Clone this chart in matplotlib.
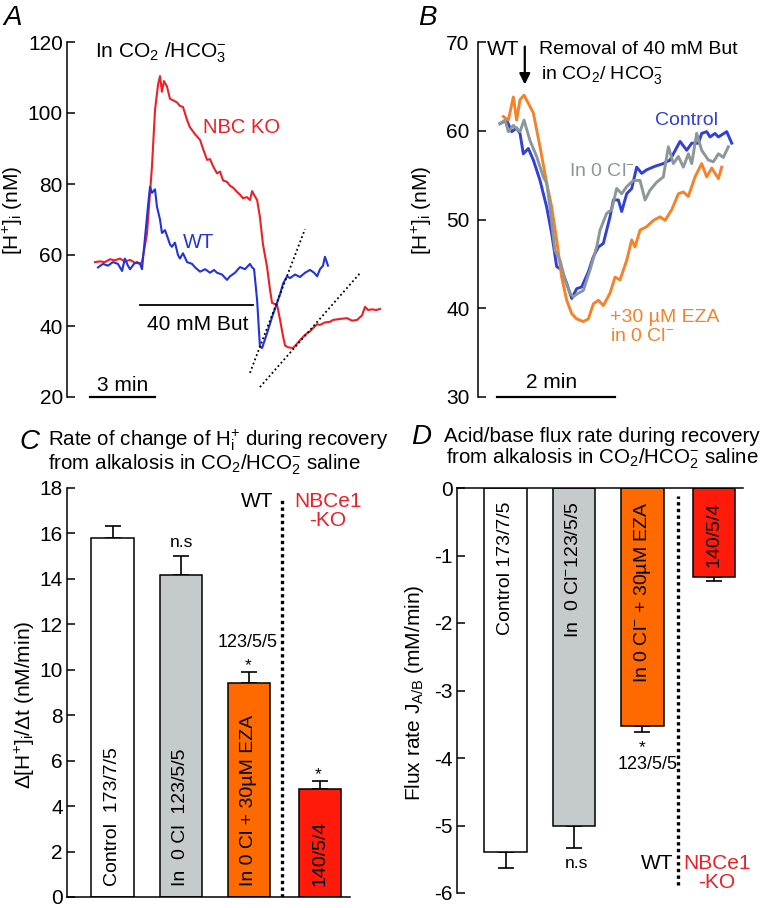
import numpy as np
import matplotlib
matplotlib.use("Agg")
import matplotlib.pyplot as plt

plt.rcParams['font.family'] = ['Liberation Sans', 'DejaVu Sans']
plt.rcParams['mathtext.fontset'] = 'custom'
plt.rcParams['mathtext.rm'] = 'Liberation Sans'
plt.rcParams['mathtext.it'] = 'Liberation Sans:italic'
plt.rcParams['mathtext.bf'] = 'Liberation Sans:bold'
plt.rcParams['axes.linewidth'] = 1.1
plt.rcParams['axes.unicode_minus'] = False

# ---------------- Panel A data (time in min, [H+]i in nM) ----------------
a_ko_t = [0, 0.23, 0.46, 0.69, 0.92, 1.15, 1.38, 1.62, 1.85, 2.08, 2.17, 2.40, 2.63, 2.77, 2.91,
          3.00, 3.09, 3.18, 3.32, 3.46, 3.60, 3.78, 3.92, 4.06, 4.25, 4.38, 4.62, 4.85, 4.98, 5.17,
          5.31, 5.45, 5.63, 5.77, 5.91, 6.09, 6.23, 6.37, 6.55, 6.69, 6.83, 7.01, 7.15, 7.25, 7.38,
          7.48, 7.61, 7.75, 7.94, 8.08, 8.17, 8.40, 8.54, 8.68, 8.77, 8.91, 9.14, 9.32, 9.46, 9.69,
          9.92, 10.06, 10.25, 10.38, 10.61, 10.85, 10.98, 11.31, 11.63, 11.86, 12.09, 12.32, 12.46,
          12.60, 12.78, 12.97, 13.15]
a_ko_h = [58.0, 58.2, 58.0, 58.8, 58.5, 59.0, 58.2, 58.6, 57.8, 57.6, 58.0, 66.0, 85.0, 100.8, 108.0,
          110.4, 106.0, 109.0, 107.5, 104.0, 103.6, 103.0, 102.0, 101.7, 98.0, 96.0, 94.0, 92.4, 90.0, 86.8,
          87.0, 85.0, 83.0, 83.5, 81.0, 80.6, 79.5, 79.0, 77.8, 77.0, 76.0, 76.3, 75.5, 78.0, 76.5,
          75.5, 70.7, 63.0, 56.6, 50.0, 46.5, 46.0, 41.7, 37.0, 34.5, 34.0, 33.8, 35.0, 36.0, 37.5,
          38.5, 39.4, 40.5, 40.3, 41.0, 41.2, 41.7, 42.0, 42.2, 41.5, 41.7, 43.0, 45.4,
          44.5, 44.7, 44.5, 44.8]
a_wt_t = [0.14, 0.37, 0.60, 0.83, 1.06, 1.25, 1.38, 1.52, 1.62, 1.80, 1.94, 2.08, 2.17, 2.31, 2.45,
          2.54, 2.63, 2.77, 2.86, 3.00, 3.09, 3.23, 3.32, 3.46, 3.55, 3.69, 3.83, 3.92, 4.06, 4.25,
          4.48, 4.62, 4.85, 5.08, 5.31, 5.49, 5.63, 5.86, 6.09, 6.23, 6.46, 6.69, 6.92, 7.15, 7.25,
          7.34, 7.48, 7.61, 7.71, 7.94, 8.17, 8.40, 8.54, 8.68, 8.86, 9.00, 9.23, 9.46, 9.69, 9.92,
          10.11, 10.25, 10.38, 10.52, 10.61, 10.75]
a_wt_h = [56.5, 57.5, 57.0, 58.0, 57.5, 55.5, 59.0, 57.0, 56.0, 57.5, 58.0, 57.5, 56.0, 65.0, 74.0,
          79.2, 77.5, 78.5, 73.6, 70.0, 66.2, 67.0, 65.5, 63.0, 62.3, 63.5, 60.0, 59.0, 60.5, 58.0,
          57.5, 56.5, 55.3, 56.0, 55.0, 55.8, 55.0, 54.5, 53.0, 54.0, 55.0, 56.6, 56.0, 57.5, 56.5,
          56.0, 47.3, 34.2, 33.8, 38.0, 42.5, 46.5, 49.0, 52.0, 54.0, 53.5, 54.5, 53.8, 55.0, 55.8,
          55.0, 54.0, 56.0, 57.0, 59.5, 57.0]
a_fit1_t = [7.15, 9.69]
a_fit1_h = [26.8, 67.3]
a_fit2_t = [7.61, 12.23]
a_fit2_h = [22.8, 54.9]
a_but_t = [2.08, 7.29]
a_yticks = [20, 40, 60, 80, 100, 120]

# ---------------- Panel B data ----------------
b_ctl_t = [0, 0.113, 0.198, 0.282, 0.339, 0.395, 0.480, 0.565, 0.678, 0.791, 0.876, 0.960, 1.045,
           1.130, 1.215, 1.299, 1.384, 1.497, 1.582, 1.667, 1.751, 1.864, 1.921, 2.006, 2.062, 2.147,
           2.232, 2.316, 2.401, 2.486, 2.627, 2.768, 2.881, 2.938, 3.051, 3.164, 3.249, 3.362, 3.418,
           3.503, 3.559, 3.644, 3.701, 3.842, 3.927]
b_ctl_h = [60.8, 61.2, 59.9, 60.3, 59.7, 57.4, 58.0, 56.7, 54.4, 51.4, 48.4, 44.7, 44.3,
           42.8, 41.1, 42.2, 42.4, 44.1, 45.8, 46.9, 47.3, 50.3, 52.2, 52.2, 50.9, 52.9,
           53.5, 55.9, 55.2, 55.6, 56.0, 56.3, 56.7, 57.4, 58.8, 57.8, 58.6, 58.6, 59.7,
           59.9, 59.3, 59.7, 59.3, 59.9, 58.6]
b_cl_t = [0, 0.085, 0.141, 0.226, 0.339, 0.407, 0.508, 0.621, 0.734, 0.791, 0.847, 0.932, 1.017,
          1.102, 1.186, 1.243, 1.328, 1.412, 1.525, 1.638, 1.695, 1.808, 1.893, 1.977, 2.062, 2.147,
          2.260, 2.373, 2.458, 2.542, 2.655, 2.768, 2.853, 2.938, 3.023, 3.107, 3.192, 3.249, 3.333,
          3.418, 3.531, 3.616, 3.701, 3.785, 3.870]
b_cl_h = [60.8, 61.2, 59.9, 60.6, 59.9, 61.2, 58.9, 57.1, 54.8, 54.1, 51.4, 46.5, 45.4,
          43.2, 41.7, 41.3, 41.7, 42.0, 44.3, 46.9, 48.8, 50.7, 51.1, 53.5, 52.9, 53.7,
          54.4, 54.4, 52.2, 53.3, 54.2, 54.8, 58.2, 56.3, 57.1, 55.9, 57.4, 56.3, 59.7,
          57.8, 56.7, 56.5, 57.4, 57.0, 58.2]
b_eza_t = [0.056, 0.141, 0.226, 0.282, 0.339, 0.407, 0.480, 0.565, 0.678, 0.791, 0.876, 0.960,
           1.045, 1.130, 1.215, 1.299, 1.412, 1.497, 1.582, 1.667, 1.751, 1.864, 1.949, 2.034,
           2.147, 2.232, 2.288, 2.373, 2.486, 2.599, 2.712, 2.797, 2.910, 3.023, 3.107, 3.192,
           3.305, 3.418, 3.503, 3.588, 3.701, 3.757]
b_eza_h = [61.6, 61.2, 63.8, 61.2, 63.5, 64.0, 63.1, 62.0, 58.2, 54.1, 51.4, 47.7,
           43.5, 40.9, 39.4, 38.8, 38.5, 38.8, 40.5, 40.9, 40.3, 41.7, 43.5, 43.2,
           45.4, 47.7, 46.9, 48.8, 49.2, 49.9, 50.3, 49.9, 51.1, 52.9, 53.1, 52.6,
           54.8, 56.3, 54.8, 55.8, 54.6, 55.9]
b_yticks = [30, 40, 50, 60, 70]

# ---------------- Panel C / D data ----------------
c_labels = ["Control  173/7/5", "In  0 Cl  123/5/5", "In 0 Cl + 30\u00b5M EZA", "140/5/4"]
c_values = [15.78, 14.18, 9.43, 4.76]
c_errors = [0.56, 0.84, 0.47, 0.35]
c_yticks = [0, 2, 4, 6, 8, 10, 12, 14, 16, 18]

d_labels = ["Control 173/7/5", "In  0 Cl$^{-}$123/5/5", "In 0 Cl$^{-}$ + 30\u00b5M EZA", "140/5/4"]
d_values = [-5.39, -5.01, -3.52, -1.32]
d_errors = [0.24, 0.32, 0.10, 0.06]
d_yticks = [0, -1, -2, -3, -4, -5, -6]

bar_colors = ['white', '#c5caca', '#ff6a00', '#ff1a0a']
red = '#ec2026'
blue = '#2233dd'

TICK = 15
LAB = 15
TXT = 15

W, H = 764, 908
fig = plt.figure(figsize=(W / 100, H / 100), dpi=100)


def axrect(l, t, r, b):
    return [l / W, 1 - b / H, (r - l) / W, (b - t) / H]


def style_left(ax, pad=4):
    ax.tick_params(axis='y', direction='in', length=6, width=1.1, labelsize=TICK, pad=pad)
    ax.tick_params(axis='x', bottom=False, labelbottom=False, top=False)


# ================= Panel A =================
axA = fig.add_axes(axrect(67, 42, 385, 397))
axA.set_xlim(-1.29, 13.38)
axA.set_ylim(20, 120)
for s in ['top', 'right', 'bottom']:
    axA.spines[s].set_visible(False)
style_left(axA, pad=3)
axA.set_yticks(a_yticks)
axA.plot(a_ko_t, a_ko_h, color=red, lw=1.5, clip_on=False)
axA.plot(a_wt_t, a_wt_h, color=blue, lw=1.5, clip_on=False)
axA.plot(a_fit1_t, a_fit1_h, color='k', lw=1.3, ls=(0, (1, 1.5)), clip_on=False)
axA.plot(a_fit2_t, a_fit2_h, color='k', lw=1.3, ls=(0, (1, 1.5)), clip_on=False)
axA.plot(a_but_t, [45.9, 45.9], color='k', lw=1.3)
axA.text(4.75, 40.3, "40 mM But", ha='center', va='center', fontsize=TXT)
axA.plot([-0.23, 2.77], [20, 20], color='k', lw=1.6, clip_on=False)
axA.text(1.27, 23.3, "3 min", ha='center', va='center', fontsize=TXT)
axA.text(0.0, 116.9, "In CO$_2$ /HCO$_3^{-}$", ha='left', va='center', fontsize=15)
axA.text(6.74, 95.8, "NBC KO", ha='center', va='center', fontsize=14.5, color=red)
axA.text(4.8, 63.4, "WT", ha='center', va='center', fontsize=14.5, color=blue)
axA.set_ylabel("[H$^{+}$]$_{\\mathrm{i}}$ (nM)", fontsize=LAB)
axA.yaxis.label.set_va('center')
axA.yaxis.set_label_coords(-0.17, 0.527)
fig.text(13 / W, 1 - 18 / H, "A", fontsize=20, style='italic', ha='center', va='center')

# ================= Panel B =================
axB = fig.add_axes(axrect(478, 42, 762, 397))
axB.set_xlim(-0.373, 4.44)
axB.set_ylim(30, 70)
for s in ['top', 'right', 'bottom']:
    axB.spines[s].set_visible(False)
style_left(axB, pad=6)
axB.set_yticks(b_yticks)
axB.plot(b_ctl_t, b_ctl_h, color='#3040d8', lw=2.1, clip_on=False)
axB.plot(b_eza_t, b_eza_h, color='#f5822a', lw=2.1, clip_on=False)
axB.plot(b_cl_t, b_cl_h, color='#8c9797', lw=2.1, clip_on=False)
axB.plot([-0.05, 1.95], [30, 30], color='k', lw=1.6, clip_on=False)
axB.text(0.88, 31.6, "2 min", ha='center', va='center', fontsize=TXT)
axB.text(0.05, 69.1, "WT", ha='center', va='center', fontsize=TXT)
axB.annotate('', xy=(0.42, 64.9), xytext=(0.42, 69.8),
             arrowprops=dict(arrowstyle='-|>', lw=1.6, color='k', mutation_scale=16))
axB.text(0.66, 69.2, "Removal of 40 mM But", ha='left', va='center', fontsize=14)
axB.text(0.69, 66.3, "in CO$_2$/ HCO$_3^{-}$", ha='left', va='center', fontsize=14)
axB.text(2.63, 61.1, "Control", ha='left', va='center', fontsize=14, color='#3040d8')
axB.text(1.17, 55.4, "In 0 Cl$^{-}$", ha='left', va='center', fontsize=14, color='#8c9797')
axB.text(1.86, 39.0, "+30 \u00b5M EZA", ha='left', va='center', fontsize=14, color='#f5822a')
axB.text(1.86, 36.8, "in 0 Cl$^{-}$", ha='left', va='center', fontsize=14, color='#f5822a')
axB.set_ylabel("[H$^{+}$]$_{\\mathrm{i}}$ (nM)", fontsize=LAB)
axB.yaxis.label.set_va('center')
axB.yaxis.set_label_coords(-0.197, 0.527)
fig.text(427 / W, 1 - 18 / H, "B", fontsize=20, style='italic', ha='center', va='center')

# ================= Panel C =================
pos = np.arange(4, dtype=float)
pos[3] += 0.05
bw = 0.62
axC = fig.add_axes(axrect(67, 488, 350, 897))
axC.set_xlim(-0.67, 3.49)
axC.set_ylim(0, 18)
for s in ['top', 'right']:
    axC.spines[s].set_visible(False)
style_left(axC, pad=3)
axC.set_yticks(c_yticks)
axC.bar(pos, c_values, width=bw, color=bar_colors, edgecolor='k', linewidth=1.1, zorder=2)
axC.errorbar(pos, c_values, yerr=[np.zeros(4), c_errors], fmt='none', ecolor='k',
             elinewidth=1.2, capsize=6, capthick=1.2, zorder=1)
for x, lab in zip(pos, c_labels):
    axC.text(x, 0.5, lab, rotation=90, ha='center', va='bottom', fontsize=14)
axC.axvline(2.49, ymin=0, ymax=17.5 / 18, color='k', lw=2.4, ls=(0, (1, 1)))
axC.text(1.02, 15.6, "n.s", ha='center', va='center', fontsize=12.5)
axC.text(1.99, 11.22, "123/5/5", ha='center', va='center', fontsize=13)
axC.text(1.99, 10.2, "*", ha='center', va='center', fontsize=12.5)
axC.text(3.02, 5.4, "*", ha='center', va='center', fontsize=12.5)
axC.text(2.12, 17.39, "WT", ha='center', va='center', fontsize=TXT)
axC.text(3.16, 17.0, "NBCe1\n-KO", ha='center', va='center', fontsize=TXT, color=red,
         linespacing=1.0)
axC.set_ylabel("\u0394[H$^{+}$]$_{\\mathrm{i}}$/\u0394t (nM/min)", fontsize=LAB)
axC.yaxis.label.set_va('center')
axC.yaxis.set_label_coords(-0.148, 0.47)
fig.text(29 / W, 1 - 442 / H, "C", fontsize=20, style='italic', ha='center', va='center')
fig.text(48 / W, 1 - 452 / H,
         "Rate of change of H$^{+}_{\\mathrm{i}}$ during recovery\nfrom alkalosis in CO$_2$/HCO$_2^{-}$ saline",
         ha='left', va='center', fontsize=14.8, linespacing=1.0)

# ================= Panel D =================
axD = fig.add_axes(axrect(457, 488, 743, 893))
axD.set_xlim(-0.71, 3.47)
axD.set_ylim(-6, 0)
for s in ['bottom', 'right']:
    axD.spines[s].set_visible(False)
style_left(axD, pad=3)
axD.set_yticks(d_yticks)
axD.bar(pos, d_values, width=bw, color=bar_colors, edgecolor='k', linewidth=1.1, zorder=2)
axD.errorbar(pos, d_values, yerr=[d_errors, np.zeros(4)], fmt='none', ecolor='k',
             elinewidth=1.2, capsize=6, capthick=1.2, zorder=1)
for x, lab in zip(pos, d_labels):
    axD.text(x, -0.2, lab, rotation=90, ha='center', va='top', fontsize=14)
axD.axvline(2.52, ymin=0.02, ymax=0.98, color='k', lw=2.4, ls=(0, (1, 1)))
axD.text(1.04, -5.57, "n.s", ha='center', va='center', fontsize=12.5)
axD.text(1.99, -3.85, "*", ha='center', va='center', fontsize=12.5)
axD.text(2.07, -4.09, "123/5/5", ha='center', va='center', fontsize=13)
axD.text(2.21, -5.57, "WT", ha='center', va='center', fontsize=TXT)
axD.text(3.09, -5.70, "NBCe1\n-KO", ha='center', va='center', fontsize=TXT, color=red,
         linespacing=1.0)
axD.set_ylabel("Flux rate J$_{\\mathrm{A/B}}$ (mM/min)", fontsize=LAB)
axD.yaxis.label.set_va('center')
axD.yaxis.set_label_coords(-0.147, 0.494)
fig.text(421 / W, 1 - 437 / H, "D", fontsize=20, style='italic', ha='center', va='center')
fig.text(602 / W, 1 - 449 / H,
         "Acid/base flux rate during recovery\nfrom alkalosis in CO$_2$/HCO$_2^{-}$ saline",
         ha='center', va='center', fontsize=14.8, linespacing=1.0, multialignment='center')

fig.savefig("out.png", dpi=100)
